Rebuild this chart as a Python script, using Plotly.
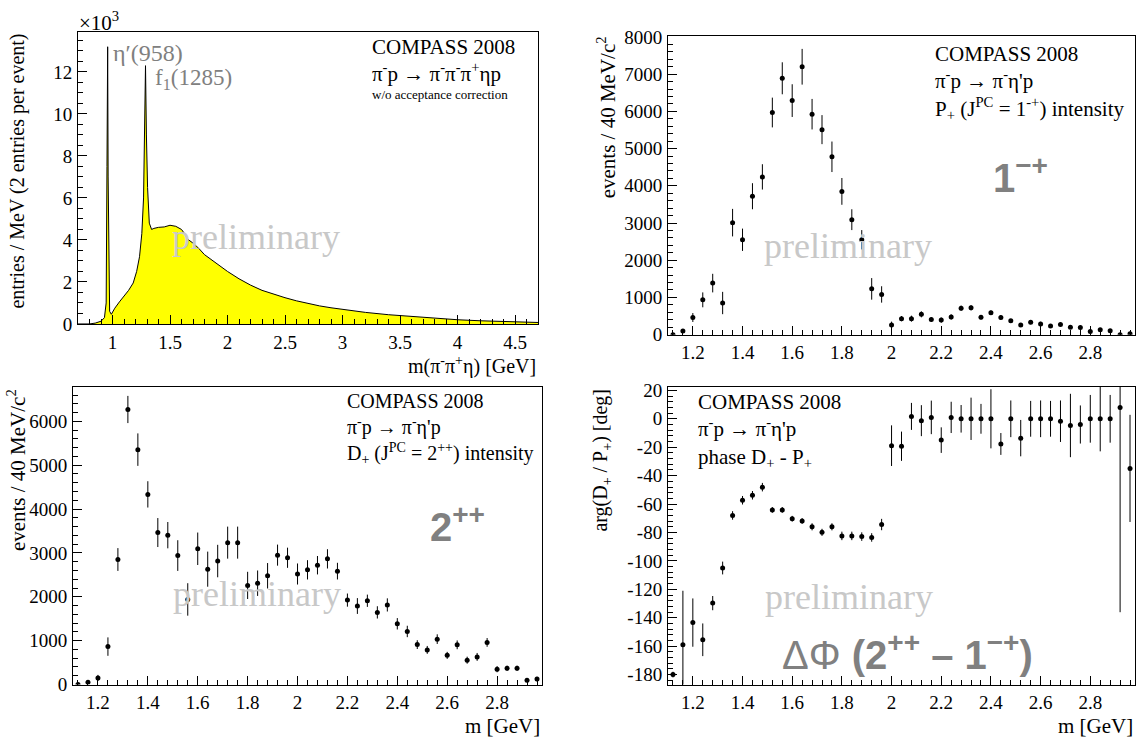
import plotly.graph_objects as go

# ---------------- data ----------------
# Panel 1: m(pi- pi+ eta) spectrum, entries / MeV  (x10^3)
hist_mass = [0.70, 0.80, 0.85, 0.90, 0.93, 0.945, 0.952, 0.958, 0.962, 0.968, 0.975, 0.99,
             1.02, 1.06, 1.10, 1.14, 1.18, 1.21, 1.235, 1.255, 1.27, 1.28, 1.287, 1.295,
             1.305, 1.32, 1.34, 1.36, 1.40, 1.45, 1.50, 1.55, 1.60, 1.62, 1.65, 1.70, 1.75,
             1.80, 1.90, 2.00, 2.10, 2.20, 2.30, 2.40, 2.50, 2.60, 2.70, 2.80, 2.90, 3.00,
             3.20, 3.40, 3.60, 3.80, 4.00, 4.20, 4.40, 4.60, 4.70]
hist_entries = [0.0, 0.0, 0.04, 0.13, 0.3, 1.0, 7.5, 13.2, 7.0, 1.5, 0.6, 0.46,
                0.75, 1.05, 1.3, 1.6, 1.95, 2.5, 3.2, 4.3, 6.0, 9.5, 12.3, 9.0,
                6.5, 4.8, 4.5, 4.55, 4.6, 4.62, 4.7, 4.65, 4.5, 4.35, 4.05, 3.85, 3.6,
                3.3, 2.9, 2.5, 2.15, 1.85, 1.6, 1.42, 1.25, 1.1, 0.97, 0.86, 0.77, 0.69,
                0.55, 0.44, 0.35, 0.27, 0.2, 0.15, 0.11, 0.08, 0.07]

# Panels 2-4: mass bins (GeV)
m_bins = [1.12, 1.16, 1.20, 1.24, 1.28, 1.32, 1.36, 1.40, 1.44, 1.48, 1.52, 1.56,
          1.60, 1.64, 1.68, 1.72, 1.76, 1.80, 1.84, 1.88, 1.92, 1.96, 2.00, 2.04,
          2.08, 2.12, 2.16, 2.20, 2.24, 2.28, 2.32, 2.36, 2.40, 2.44, 2.48, 2.52,
          2.56, 2.60, 2.64, 2.68, 2.72, 2.76, 2.80, 2.84, 2.88, 2.92, 2.96]

# P+ (1-+) intensity
p_int = [0, 100, 460, 935, 1385, 850, 3010, 2550, 3720, 4240, 5970, 6890,
         6290, 7200, 5925, 5510, 4780, 3850, 3090, 2550, 1230, 1080, 260, 430,
         430, 545, 405, 390, 475, 710, 720, 465, 590, 460, 370, 260,
         330, 285, 235, 275, 200, 190, 85, 130, 105, 0, 25]
p_err = [15, 40, 120, 200, 250, 300, 370, 300, 350, 340, 400, 430,
         440, 480, 410, 390, 410, 360, 280, 260, 290, 220, 90, 70,
         80, 80, 60, 70, 70, 70, 70, 60, 60, 60, 50, 50,
         50, 60, 40, 50, 40, 50, 50, 40, 40, 20, 20]

# D+ (2++) intensity
d_int = [0, 52, 150, 865, 2850, 6270, 5355, 4335, 3465, 3405, 2940, 1940,
         3095, 2630, 2815, 3235, 3235, 2260, 2310, 2480, 2950, 2890, 2520, 2615,
         2720, 2865, 2585, 1925, 1790, 1910, 1645, 1815, 1385, 1210, 910, 790,
         1035, 665, 905, 555, 630, 960, 350, 370, 370, 95, 125]
d_err = [10, 30, 70, 210, 260, 310, 370, 300, 330, 300, 350, 370,
         370, 400, 370, 365, 365, 310, 290, 290, 240, 230, 240, 220,
         210, 220, 190, 150, 180, 140, 140, 150, 130, 130, 100, 90,
         110, 80, 100, 80, 90, 100, 70, 60, 60, 40, 50]

# phase D+ - P+ (deg)
phase = [-180, -159, -143.4, -155.5, -129.7, -105, -68, -57.3, -53.8, -48.1, -64.1, -64.1,
         -70.3, -71.9, -76, -79.9, -76, -82.4, -82.4, -82.9, -83.5, -74.4, -18.9, -19.3,
         1.7, -1.3, 1, -15, 1, 0, 0, 0, 0, -17.7, 0, -13.6,
         0, 0, 0, -1.7, -4.7, -4, 0, 0, 0, 7.9, -34.9]
phase_err = [2, 38, 17, 11.5, 5, 4.5, 3, 3, 3, 3, 2, 2,
             2, 2, 2.5, 2.5, 2.5, 3, 3, 3, 3, 4, 14.3, 10.3,
             9.5, 10.9, 11.8, 9, 11, 9.7, 14.9, 10.5, 20.8, 7.7, 12.9, 12.8,
             12.6, 12.9, 12.6, 14.6, 22.3, 13.4, 16.8, 22.9, 16.8, 144, 37.7]

# tick labels
p1_yticks = [0, 2, 4, 6, 8, 10, 12]
p1_xticks = [1, 1.5, 2, 2.5, 3, 3.5, 4, 4.5]
mass_ticks = [1.2, 1.4, 1.6, 1.8, 2.0, 2.2, 2.4, 2.6, 2.8]
mass_ticktext = ["1.2", "1.4", "1.6", "1.8", "2", "2.2", "2.4", "2.6", "2.8"]
p_yticks = [0, 1000, 2000, 3000, 4000, 5000, 6000, 7000, 8000]
d_yticks = [0, 1000, 2000, 3000, 4000, 5000, 6000]
phase_ticks = [-180, -160, -140, -120, -100, -80, -60, -40, -20, 0, 20]
phase_ticktext = ["-180", "-160", "-140", "-120", "-100", "-80", "-60", "-40", "-20", "0", "20"]

# ---------------- styling ----------------
W, H = 1139, 749
SERIF = "Liberation Serif"
SANS = "Liberation Sans"
GREY = "#808080"
PRELIM = "#c8c8c8"
TICK = 19


def px_x(p):
    return p / W


def px_y(p):
    return 1 - p / H


def axis(domain, rng, anchor, tickvals, ticktext, minor_dtick):
    return dict(domain=domain, range=rng, anchor=anchor,
                showline=True, linecolor="black", linewidth=1, mirror=True,
                ticks="inside", ticklen=9, tickwidth=1, tickcolor="black",
                tickmode="array", tickvals=tickvals, ticktext=ticktext,
                minor=dict(dtick=minor_dtick, ticks="inside", ticklen=5,
                           tickwidth=1, tickcolor="black"),
                showgrid=False, zeroline=False, ticklabelstandoff=1,
                tickfont=dict(family=SERIF, size=TICK, color="black"))


fig = go.Figure()

# Panel 1: filled histogram
fig.add_trace(go.Scatter(x=hist_mass, y=hist_entries, mode="lines",
                         line=dict(color="black", width=1),
                         fill="tozeroy", fillcolor="#ffff00",
                         xaxis="x", yaxis="y", showlegend=False))


def points(y, err, xa, ya):
    return go.Scatter(x=m_bins, y=y, mode="markers",
                      marker=dict(color="black", size=5),
                      error_y=dict(type="data", array=err, visible=True,
                                   color="black", thickness=1, width=0),
                      xaxis=xa, yaxis=ya, showlegend=False)


fig.add_trace(points(p_int, p_err, "x2", "y2"))
fig.add_trace(points(d_int, d_err, "x3", "y3"))
fig.add_trace(points(phase, phase_err, "x4", "y4"))

dom1x = [px_x(78), px_x(538)]
dom1y = [px_y(323), px_y(22.7)]
dom2x = [px_x(668), px_x(1135)]
dom2y = [px_y(334), px_y(27)]
dom3x = [px_x(73), px_x(542)]
dom3y = [px_y(694), px_y(388)]
dom4x = [px_x(668), px_x(1135)]
dom4y = [px_y(694), px_y(388)]

fig.update_layout(
    width=W, height=H, autosize=False,
    margin=dict(l=0, r=0, t=0, b=0),
    paper_bgcolor="white", plot_bgcolor="white",
    xaxis=axis(dom1x, [0.7, 4.7], "y", p1_xticks, [str(v) for v in p1_xticks], 0.1),
    yaxis=axis(dom1y, [0, 13.9], "x", p1_yticks, [str(v) for v in p1_yticks], 0.5),
    xaxis2=axis(dom2x, [1.1, 2.98], "y2", mass_ticks, mass_ticktext, 0.04),
    yaxis2=axis(dom2y, [0, 8020], "x2", p_yticks, [str(v) for v in p_yticks], 200),
    xaxis3=axis(dom3x, [1.1, 2.98], "y3", mass_ticks, mass_ticktext, 0.04),
    yaxis3=axis(dom3y, [0, 6780], "x3", d_yticks, [str(v) for v in d_yticks], 200),
    xaxis4=axis(dom4x, [1.1, 2.98], "y4", mass_ticks, mass_ticktext, 0.04),
    yaxis4=axis(dom4y, [-187, 22.3], "x4", phase_ticks, phase_ticktext, 4),
)

ann = []


def note(text, x, y, xref, yref, size, color="black", family=SERIF,
         xanchor="left", yanchor="middle", angle=0):
    ann.append(dict(text=text, x=x, y=y, xref=xref, yref=yref, showarrow=False,
                    xanchor=xanchor, yanchor=yanchor, textangle=angle, align="left",
                    font=dict(family=family, size=size, color=color)))


# Panel 1 texts
note("×10<sup>3</sup>", px_x(77), px_y(12), "paper", "paper", 21)
note("η′(958)", 0.99, 12.9, "x", "y", 24, GREY)
note("f<sub>1</sub>(1285)", 1.356, 11.65, "x", "y", 23, GREY)
note("COMPASS 2008<br>π<sup>-</sup>p → π<sup>-</sup>π<sup>-</sup>π<sup>+</sup>ηp",
     3.236, 13.85, "x", "y", 21, yanchor="top")
note("w/o acceptance correction", 3.236, 10.95, "x", "y", 13)
note("preliminary", 2.25, 4.16, "x", "y", 36, PRELIM, xanchor="center")
note("m(π<sup>-</sup>π<sup>+</sup>η) [GeV]", px_x(538), px_y(366), "paper", "paper", 20,
     xanchor="right")
note("entries / MeV (2 entries per event)", px_x(18), px_y(22.7), "paper", "paper", 20,
     xanchor="center", yanchor="top", angle=-90)

# Panel 2 texts
note("COMPASS 2008<br>π<sup>-</sup>p → π<sup>-</sup>η'p<br>"
     "P<sub>+</sub> (J<sup>PC</sup> = 1<sup>-+</sup>) intensity",
     2.167, 7930, "x2", "y2", 21, yanchor="top")
note("<b>1<sup>−+</sup></b>", 2.52, 4281, "x2", "y2", 40, GREY, SANS, xanchor="center")
note("preliminary", 1.823, 2378, "x2", "y2", 36, PRELIM, xanchor="center")
note("events / 40 MeV/c<sup>2</sup>", px_x(606), px_y(25), "paper", "paper", 21,
     xanchor="center", yanchor="top", angle=-90)

# Panel 3 texts
note("COMPASS 2008<br>π<sup>-</sup>p → π<sup>-</sup>η'p<br>"
     "D<sub>+</sub> (J<sup>PC</sup> = 2<sup>++</sup>) intensity",
     2.191, 6760, "x3", "y3", 20, yanchor="top")
note("<b>2<sup>++</sup></b>", 2.641, 3667, "x3", "y3", 40, GREY, SANS, xanchor="center")
note("preliminary", 1.839, 2074, "x3", "y3", 36, PRELIM, xanchor="center")
note("events / 40 MeV/c<sup>2</sup>", px_x(16), px_y(388), "paper", "paper", 21,
     xanchor="center", yanchor="top", angle=-90)
note("m [GeV]", px_x(542), px_y(737), "paper", "paper", 21, xanchor="right")

# Panel 4 texts
note("COMPASS 2008<br>π<sup>-</sup>p → π<sup>-</sup>η'p<br>"
     "phase D<sub>+</sub> - P<sub>+</sub>",
     1.214, 21.5, "x4", "y4", 21, yanchor="top")
note("ΔΦ <b>(2<sup>++</sup> – 1<sup>−+</sup>)</b>", 2.065, -164, "x4", "y4", 40, GREY, SANS,
     xanchor="center")
note("preliminary", 1.827, -125.1, "x4", "y4", 36, PRELIM, xanchor="center")
note("arg(D<sub>+</sub> / P<sub>+</sub>) [deg]", px_x(602), px_y(388), "paper", "paper", 20,
     xanchor="center", yanchor="top", angle=-90)
note("m [GeV]", px_x(1135), px_y(737), "paper", "paper", 21, xanchor="right")

fig.update_layout(annotations=ann)
fig.write_html("out.html",
               config={"displayModeBar": False},
               post_script="document.body.style.margin='0';"
                           "document.body.style.overflow='hidden';")
